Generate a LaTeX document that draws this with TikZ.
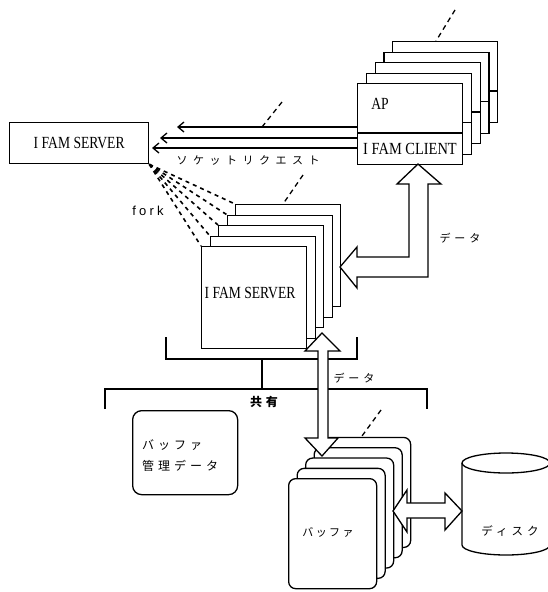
\documentclass[tikz,border=0pt]{standalone}
\usepackage{fontspec}
\setmainfont{Liberation Serif}
\newfontfamily\jp{Noto Sans CJK JP}
\newfontfamily\forkfont{Liberation Sans}
\usetikzlibrary{arrows.meta,calc}
\tikzset{
  lw/.style={line width=1.3pt},
  box/.style={draw, lw, fill=white, inner sep=0pt, anchor=north west},
  rbox/.style={box, rounded corners=7pt},
  lbl/.style={inner sep=0pt},
  fatarrow/.style={draw, lw, fill=white, line join=miter},
  dashone/.style={lw, dash pattern=on 5pt off 4pt},
  sock/.style={lw, -{Straight Barb[length=6pt,width=10pt]}},
  forkline/.style={line width=1.6pt, dash pattern=on 4pt off 4pt},
}
\newcommand\latintxt[2]{\scalebox{#1}[1]{\fontsize{17}{17}\selectfont #2}}
\newcommand\jptxt[3]{{\jp\addfontfeature{LetterSpace=#2}\fontsize{#1}{#1}\selectfont #3}}
\begin{document}
\begin{tikzpicture}[x=1pt,y=-1pt]
\useasboundingbox (0,0) rectangle (548,592);
\clip (0,0) rectangle (548,592);

% left server
\node[box, minimum width=139pt, minimum height=41pt] (srvL) at (9,122) {};
\node[lbl] (srvLt) at (srvL.center) {\latintxt{0.8}{I FAM SERVER}};

% AP / client stack
\foreach \i in {4,3,2,1,0} {
  \node[box, minimum width=105pt, minimum height=81pt] (ap\i) at ({357+8.75*\i},{83-10.5*\i}) {};
  \draw[lw] ([yshift=-50pt]ap\i.north west) -- ([yshift=-50pt]ap\i.north east);
}
\node[lbl] (apt) at (380,104) {\latintxt{0.8}{AP}};
\node[lbl] (clt) at (410,149) {\latintxt{0.85}{I FAM CLIENT}};

% server stack
\foreach \i in {4,3,2,1,0} {
  \node[box, minimum width=105pt, minimum height=102pt] (srv\i) at ({201+8.5*\i},{246-10.5*\i}) {};
}
\node[lbl] (srvt) at (250,293) {\latintxt{0.8}{I FAM SERVER}};

% buffer stack
\foreach \i in {4,3,2,1,0} {
  \node[rbox, minimum width=88pt, minimum height=110pt] (buf\i) at ({288+8.5*\i},{478-10.3*\i}) {};
}
\node[lbl] (buft) at (328,532) {\jptxt{11}{22}{バッファ}};

% buffer management data
\node[box, rounded corners=9pt, minimum width=105pt, minimum height=84pt] (mgmt) at (132,410) {};
\node[lbl, anchor=west] (mgmt1) at (142,445) {\jptxt{12}{33}{バッファ}};
\node[lbl, anchor=west] (mgmt2) at (142,466) {\jptxt{12}{33}{管理データ}};

% brackets
\draw[lw] (166,337) |- (357,359) -- (357,337);
\draw[lw] (262,359) -- (262,389);
\draw[lw] (105,409) |- (427,389) -- (427,409);
\node[lbl] (kyo) at (264,402) {\jptxt{12}{30}{\bfseries 共有}};

% socket request arrows
\coordinate (s1) at (177,127);
\coordinate (s2) at (160,138);
\coordinate (s3) at (152,148);
\draw[sock] (ap0.west |- s1) -- (s1);
\draw[sock] (ap0.west |- s2) -- (s2);
\draw[sock] (ap0.west |- s3) -- (s3);
\node[lbl] (sockt) at (248,160) {\jptxt{11}{50}{ソケットリクエスト}};

% dashed "more" marks
\draw[dashone] (282,102) -- (262,127);
\draw[dashone] (303,175) -- (283,204);
\draw[dashone] (455,10) -- (436,41);
\draw[dashone] (381,410) -- (362,436);

% fork lines
\foreach \i in {0,1,2,3,4} {
  \draw[forkline] (srvL.south east) -- (srv\i.north west);
}
\node[lbl] (forkt) at (148,211) {\forkfont\addfontfeature{LetterSpace=25}\fontsize{13}{13}\selectfont fork};

% data arrow client <-> server
\draw[fatarrow] (418,164) -- (441,184) -- (428,184) -- (428,277) -- (357,277) -- (357,288) -- (340,267) -- (357,247) -- (357,257) -- (409,257) -- (409,184) -- (397,184) -- cycle;
\node[lbl] (data1) at (460,238) {\jptxt{11}{36}{データ}};

% data arrow server <-> buffer
\draw[fatarrow] (322,333) -- (340,351) -- (328,351) -- (328,438) -- (338,438) -- (322,456) -- (305,438) -- (318,438) -- (318,351) -- (305,351) -- cycle;
\node[lbl] (data2) at (354,378) {\jptxt{11}{36}{データ}};

% disk
\draw[lw, fill=white] (462,463) -- (462,545) arc[start angle=180, end angle=0, x radius=44, y radius=10] -- (550,463);
\draw[lw, fill=white] (506,463) ellipse[x radius=44, y radius=10];
\node[lbl] (diskt) at (510,531) {\jptxt{11.5}{35}{ディスク}};

% buffer <-> disk arrow
\draw[fatarrow] (393,511) -- (407,490) -- (407,503) -- (445,503) -- (445,493) -- (462,511) -- (445,530) -- (445,518) -- (407,518) -- (407,532) -- cycle;
\end{tikzpicture}
\end{document}
